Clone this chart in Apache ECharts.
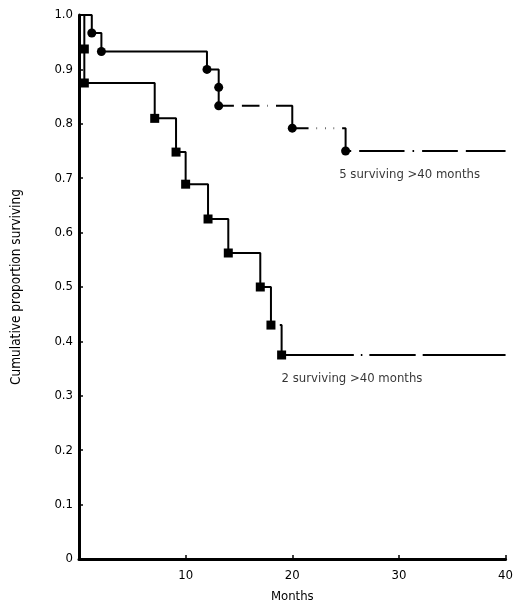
<!DOCTYPE html>
<html>
<head>
<meta charset="utf-8">
<script src="https://cdn.jsdelivr.net/npm/echarts@6/dist/echarts.min.js"></script>
<style>
html,body{margin:0;padding:0;background:#fff;}
#c{width:516px;height:608px;}
</style>
</head>
<body>
<div id="c"></div>
<script>
// Upper group (circles): event times (months) and cumulative proportion surviving
const upperTimes = [0, 1.2, 2.1, 12.0, 13.1, 13.1, 20.0, 25.0];
const upperSurv  = [1.0, 0.967, 0.933, 0.900, 0.867, 0.833, 0.792, 0.750];
const upperCensor = [14.9, 17.3, 18.1, 21.9, 22.7, 23.5, 24.3, 25.9, 30.9, 31.8, 35.9];

// Lower group (squares)
const lowerTimes = [0, 0.5, 0.5, 7.1, 9.1, 10.0, 12.1, 14.0, 17.0, 18.0, 19.0];
const lowerSurv  = [1.0, 0.9375, 0.875, 0.810, 0.748, 0.689, 0.625, 0.5625, 0.500, 0.430, 0.375];
const lowerCensor = [18.5, 26.1, 26.9, 31.9];

const followUpEnd = 40;
const xTicks = [0, 10, 20, 30, 40];
const yTicks = [0, 0.1, 0.2, 0.3, 0.4, 0.5, 0.6, 0.7, 0.8, 0.9, 1.0];

const notes = [
  {x: 24.4, y: 0.707, text: '5 surviving >40 months'},
  {x: 19.0, y: 0.331, text: '2 surviving >40 months'}
];

const FONT = "'DejaVu Sans Condensed', 'DejaVu Sans', sans-serif";

function curve(times, surv) {
  const d = times.map((t, i) => [t, surv[i]]);
  d.push([followUpEnd, surv[surv.length - 1]]);
  return d;
}
function events(times, surv) {
  return times.slice(1).map((t, i) => [t, surv[i + 1]]);
}
function survAt(times, surv, t) {
  let v = surv[0];
  for (let i = 0; i < times.length; i++) if (times[i] <= t) v = surv[i];
  return v;
}
function censorPts(c, times, surv) {
  return c.map(t => [t, survAt(times, surv, t)]);
}

const chart = echarts.init(document.getElementById('c'), null, {renderer: 'canvas'});
chart.setOption({
  animation: false,
  backgroundColor: '#fff',
  textStyle: {fontFamily: FONT},
  grid: {left: 79, right: 6, top: 15, bottom: 46},
  xAxis: {
    type: 'value', min: 0, max: 40, interval: 10,
    name: 'Months', nameLocation: 'middle', nameGap: 31,
    nameTextStyle: {color: '#000', fontSize: 13, fontFamily: FONT},
    axisLine: {show: true, lineStyle: {color: '#000', width: 3}},
    axisTick: {show: true, inside: true, length: 4, lineStyle: {color: '#000', width: 1.5}},
    axisLabel: {color: '#000', fontSize: 13, fontFamily: FONT, margin: 10,
      formatter: v => (v === 0 ? '' : String(v))},
    splitLine: {show: false}
  },
  yAxis: {
    type: 'value', min: 0, max: 1, interval: 0.1,
    name: 'Cumulative proportion surviving', nameLocation: 'middle', nameGap: 56,
    nameRotate: 90,
    nameTextStyle: {color: '#000', fontSize: 13.5, fontFamily: FONT},
    axisLine: {show: true, lineStyle: {color: '#000', width: 3}},
    axisTick: {show: true, inside: true, length: 4, lineStyle: {color: '#000', width: 1.5}},
    axisLabel: {color: '#000', fontSize: 13, fontFamily: FONT, margin: 6,
      formatter: v => (v === 0 ? '0' : v.toFixed(1))},
    splitLine: {show: false}
  },
  series: [
    {type: 'line', step: 'end', data: curve(upperTimes, upperSurv), showSymbol: false,
     lineStyle: {color: '#000', width: 2}, z: 2},
    {type: 'line', step: 'end', data: curve(lowerTimes, lowerSurv), showSymbol: false,
     lineStyle: {color: '#000', width: 2}, z: 2},
    {type: 'scatter', data: censorPts(upperCensor, upperTimes, upperSurv), symbol: 'rect',
     symbolSize: [8, 5], itemStyle: {color: '#fff', opacity: 1}, z: 3},
    {type: 'scatter', data: censorPts(lowerCensor, lowerTimes, lowerSurv), symbol: 'rect',
     symbolSize: [7, 5], itemStyle: {color: '#fff', opacity: 1}, z: 3},
    {type: 'scatter', data: events(upperTimes, upperSurv), symbol: 'circle', symbolSize: 9,
     itemStyle: {color: '#000', opacity: 1}, z: 4},
    {type: 'scatter', data: events(lowerTimes, lowerSurv), symbol: 'rect', symbolSize: 9,
     itemStyle: {color: '#000', opacity: 1}, z: 4},
    {type: 'scatter', symbolSize: 0, z: 5,
     data: notes.map(n => ({value: [n.x, n.y], name: n.text})),
     label: {show: true, position: 'right', distance: 0, color: '#000', fontSize: 13,
       fontFamily: FONT, formatter: p => p.name}}
  ]
});
</script>
</body>
</html>
